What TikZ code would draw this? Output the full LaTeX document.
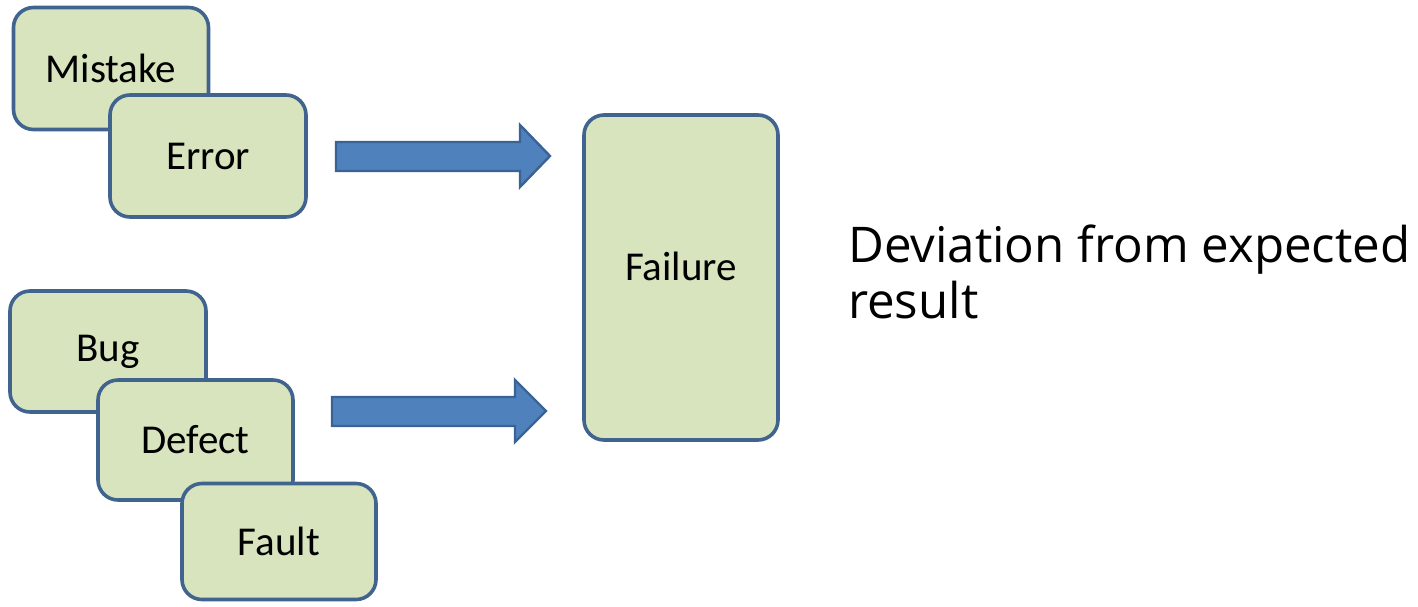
\documentclass[tikz,border=0pt]{standalone}
\usepackage{fontspec}
\setmainfont{Carlito}
\newfontfamily\rfont{Open Sans}
\definecolor{boxfill}{HTML}{D7E4BD}
\definecolor{boxline}{HTML}{41648F}
\definecolor{arrowfill}{HTML}{4F81BD}
\definecolor{arrowline}{HTML}{3A6395}
\begin{document}
\begin{tikzpicture}[x=1pt,y=-1pt,
  card/.style={draw=boxline, fill=boxfill, line width=3.6pt, rounded corners=20pt,
    inner sep=0pt, font=\fontsize{41}{46}\selectfont},
  bigarrow/.style={draw=arrowline, fill=arrowfill, line width=2.4pt},
  plain/.style={inner sep=0pt, font=\fontsize{41}{46}\selectfont}]
\useasboundingbox (0,0) rectangle (1418,606);
\node[card, minimum width=195pt, minimum height=122pt] (mistake) at (111,68.5) {Mistake};
\node[card, minimum width=196pt, minimum height=122pt] (error) at (208,156) {Error};
\node[card, minimum width=196pt, minimum height=121pt] (bug) at (108,351.5) {Bug};
\node[card, minimum width=195pt, minimum height=120pt] (defect) at (195.5,440) {Defect};
\node[card, minimum width=194pt, minimum height=116pt] (fault) at (279,541.5) {Fault};
\node[card, minimum width=194pt, minimum height=325pt] (failure) at (681,277.5) {};
\node[plain] (failuretext) at (681,266) {Failure};
\draw[bigarrow] (336,142) -- (520,142) -- (520,125) -- (550,156) -- (520,187) -- (520,171) -- (336,171) -- cycle;
\draw[bigarrow] (332,397) -- (515,397) -- (515,380) -- (546,411) -- (515,442) -- (515,426) -- (332,426) -- cycle;
\node[anchor=base west, inner sep=0pt, font=\rfont\fontsize{49.2}{56}\selectfont] (dev) at (848,262) {Deviation from expected};
\node[anchor=base west, inner sep=0pt, font=\rfont\fontsize{49.2}{56}\selectfont] (res) at (848,318) {result};
\end{tikzpicture}
\end{document}
